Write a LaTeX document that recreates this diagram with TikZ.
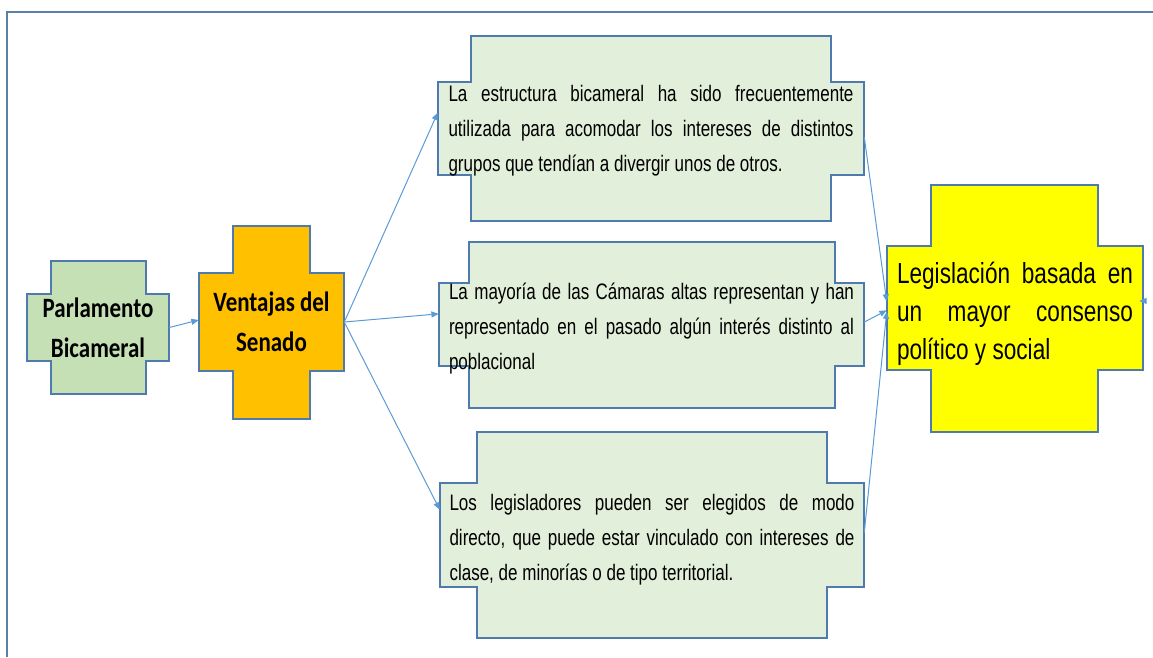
\documentclass[tikz,border=0pt]{standalone}
\usepackage{fontspec}
\usetikzlibrary{arrows.meta,calc}
\newfontfamily\narrowfont{Liberation Sans}[FakeStretch=0.76]
\newfontfamily\yelfont{Liberation Sans}[FakeStretch=0.78]
\newfontfamily\califont{Carlito}[FakeStretch=0.82]
\definecolor{framecol}{HTML}{5B80A8}
\definecolor{edgecol}{HTML}{4E7AAE}
\definecolor{linecol}{HTML}{5B9BD5}
\definecolor{greenA}{HTML}{C5E0B4}
\definecolor{greenB}{HTML}{E2EFDA}
\definecolor{orangeA}{HTML}{FFC000}
\definecolor{yellowA}{HTML}{FFFF00}
\hbadness=10000
\hyphenpenalty=10000
\tolerance=10000
\tikzset{
  crossline/.style={draw=edgecol, line width=0.9pt},
  conn/.style={draw=linecol, line width=0.75pt, -{Triangle[length=5.5pt,width=4.5pt]}},
  boxtxt/.style={inner sep=0pt, align=justify,
    font=\narrowfont\fontsize{16.8pt}{26.2pt}\selectfont},
  yeltxt/.style={inner sep=0pt, align=justify,
    font=\yelfont\fontsize{21.75pt}{28.5pt}\selectfont},
  caltxt/.style={inner sep=0pt, align=center,
    font=\califont\bfseries\fontsize{21pt}{30pt}\selectfont}
}
% cross: x1 x2 y1 y2 (vertical arm), X1 X2 Y1 Y2 (horizontal arm), fill
\newcommand{\mycross}[9]{%
  \draw[crossline, fill=#9] (#1,#3) -- (#2,#3) -- (#2,#7) -- (#6,#7) -- (#6,#8) -- (#2,#8) -- (#2,#4) -- (#1,#4) -- (#1,#8) -- (#5,#8) -- (#5,#7) -- (#1,#7) -- cycle;}
\begin{document}
\begin{tikzpicture}[x=0.75pt, y=-0.75pt]
\useasboundingbox (0,0) rectangle (1153,657);
% frame
\draw[framecol, line width=1.4pt] (7,657) -- (7,12) -- (1153,12);

% shapes
\mycross{51}{146}{261}{394}{27}{169}{294}{361}{greenA}
\mycross{233}{310}{226}{419}{199}{344}{273}{371}{orangeA}
\mycross{471}{831}{36}{221}{438}{864}{82}{175}{greenB}
\mycross{469}{835}{242}{408}{439}{864}{283}{366}{greenB}
\mycross{477}{827}{432}{638}{440}{864}{483}{587}{greenB}
\mycross{931}{1098}{185}{432}{887}{1143}{246}{370}{yellowA}

% text nodes (sized as the horizontal arms)
\node[caltxt, minimum width={142*0.75pt}, minimum height={67*0.75pt}] (par) at (98,327.5) {Parlamento\\Bicameral};
\node[caltxt, minimum width={145*0.75pt}, minimum height={98*0.75pt}] (ven) at (271.5,322) {Ventajas del\\Senado};
\node[boxtxt, text width={405*0.75pt}, minimum width={426*0.75pt}, minimum height={93*0.75pt}] (b1) at (651,130.5)
  {La estructura bicameral ha sido frecuentemente\linebreak utilizada para acomodar los intereses de distintos\linebreak grupos que tendían a divergir unos de otros.};
\node[boxtxt, text width={405*0.75pt}, minimum width={425*0.75pt}, minimum height={83*0.75pt}] (b2) at (651.5,328.5)
  {La mayoría de las Cámaras altas representan y han\linebreak representado en el pasado algún interés distinto al\linebreak poblacional};
\node[boxtxt, text width={405*0.75pt}, minimum width={424*0.75pt}, minimum height={104*0.75pt}] (b3) at (652,540)
  {Los legisladores pueden ser elegidos de modo\linebreak directo, que puede estar vinculado con intereses de\linebreak clase, de minorías o de tipo territorial.};
\node[yeltxt, text width={236*0.75pt}, minimum width={256*0.75pt}, minimum height={124*0.75pt}] (yl) at (1015,314)
  {Legislación basada en\linebreak un mayor consenso\linebreak político y social};

% connectors
\draw[conn] (par.east) -- ($(ven.north west)!0.48!(ven.south west)$);
\draw[conn] (ven.east) -- ($(b1.north west)!0.31!(b1.south west)$);
\draw[conn] (ven.east) -- ($(b2.north west)!0.34!(b2.south west)$);
\draw[conn] (ven.east) -- ($(b3.north west)!0.21!(b3.south west)$);
\draw[conn] ($(b1.north east)!0.57!(b1.south east)$) -- ($(yl.north west)!0.40!(yl.south west)$);
\draw[conn] ($(b2.north east)!0.43!(b2.south east)$) -- ($(yl.north west)!0.47!(yl.south west)$);
\draw[conn] ($(b3.north east)!0.43!(b3.south east)$) -- ($(yl.north west)!0.48!(yl.south west)$);
\coordinate (stray) at ($(yl.north east)!0.395!(yl.south east)+(1,0)$);
\draw[conn] (stray) -- ($(yl.north east)!0.395!(yl.south east)+(-4,0)$);
\end{tikzpicture}
\end{document}
